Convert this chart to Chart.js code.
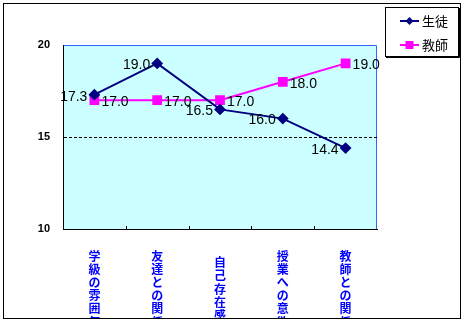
<!DOCTYPE html>
<html>
<head>
    <title>生徒と教師</title>
    <script src="https://cdn.jsdelivr.net/npm/chart.js"></script>
    <style>
        body { margin: 0; background: #fff; }
        .chart-container { width: 462px; height: 322px; position: relative; }
    </style>
</head>
<body>
    <div class="chart-container">
        <canvas id="lineChart"></canvas>
    </div>
    <script>
        // data
        const categories = ['学級の雰囲気', '友達との関係', '自己存在感', '授業への意欲', '教師との関係'];
        const studentValues = [17.3, 19.0, 16.5, 16.0, 14.4];
        const teacherValues = [17.0, 17.0, 17.0, 18.0, 19.0];
        const seriesNames = ['生徒', '教師'];
        const yTicks = [10, 15, 20];

        // plot area background + blue top/right border, small inside ticks on x axis
        const plotArea = {
            id: 'plotArea',
            beforeDraw(chart) {
                const { ctx, chartArea: a } = chart;
                ctx.save();
                ctx.fillStyle = '#ccffff';
                ctx.fillRect(a.left, a.top, a.right - a.left, a.bottom - a.top);
                ctx.strokeStyle = '#3366ff';
                ctx.lineWidth = 1;
                ctx.beginPath();
                ctx.moveTo(a.left, a.top + 0.5);
                ctx.lineTo(a.right - 0.5, a.top + 0.5);
                ctx.lineTo(a.right - 0.5, a.bottom);
                ctx.stroke();
                ctx.restore();
            },
            afterDraw(chart) {
                const { ctx, chartArea: a } = chart;
                const x = chart.scales.x;
                const step = (a.right - a.left) / categories.length;
                ctx.save();
                ctx.strokeStyle = '#000';
                ctx.lineWidth = 1;
                for (let i = 1; i < categories.length; i++) {
                    const px = Math.round(x.getPixelForValue(i) - step / 2) + 0.5;
                    ctx.beginPath();
                    ctx.moveTo(px, a.bottom);
                    ctx.lineTo(px, a.bottom - 3);
                    ctx.stroke();
                }
                // outer frame, labels cut off at it
                ctx.fillStyle = '#fff';
                ctx.fillRect(0, 319, chart.width, chart.height - 319);
                ctx.strokeStyle = '#000';
                ctx.strokeRect(3.5, 3.5, 457, 315);
                ctx.restore();
            }
        };

        // value labels next to each point
        const valueLabels = {
            id: 'valueLabels',
            afterDatasetsDraw(chart) {
                const ctx = chart.ctx;
                ctx.save();
                ctx.font = '14px "Liberation Sans"';
                ctx.fillStyle = '#000';
                ctx.textBaseline = 'middle';
                chart.data.datasets.forEach((ds, di) => {
                    const meta = chart.getDatasetMeta(di);
                    ctx.textAlign = ds.labelSide === 'left' ? 'right' : 'left';
                    meta.data.forEach((pt, i) => {
                        const dx = ds.labelSide === 'left' ? -7 : 7;
                        ctx.fillText(ds.data[i].toFixed(1), pt.x + dx, pt.y + 2);
                    });
                });
                ctx.restore();
            }
        };

        // boxed legend top right, line with marker
        const boxLegend = {
            id: 'boxLegend',
            afterDraw(chart) {
                const ctx = chart.ctx;
                ctx.save();
                ctx.strokeStyle = '#000';
                ctx.lineWidth = 1;
                ctx.strokeRect(385.5, 7.5, 73, 49);
                ctx.beginPath();
                ctx.moveTo(459.5, 8);
                ctx.lineTo(459.5, 57.5);
                ctx.lineTo(386, 57.5);
                ctx.stroke();
                ctx.font = '13px "Noto Sans CJK JP"';
                ctx.textBaseline = 'middle';
                ctx.textAlign = 'left';
                chart.data.datasets.forEach((ds, i) => {
                    const y = 21 + i * 24;
                    ctx.strokeStyle = ds.borderColor;
                    ctx.lineWidth = 2;
                    ctx.beginPath();
                    ctx.moveTo(400, y);
                    ctx.lineTo(419, y);
                    ctx.stroke();
                    ctx.fillStyle = ds.borderColor;
                    ctx.beginPath();
                    if (ds.pointStyle === 'rect') {
                        ctx.rect(405.5, y - 4, 8, 8);
                    } else {
                        ctx.moveTo(409.5, y - 4);
                        ctx.lineTo(413.5, y);
                        ctx.lineTo(409.5, y + 4);
                        ctx.lineTo(405.5, y);
                        ctx.closePath();
                    }
                    ctx.fill();
                    ctx.fillStyle = '#000';
                    ctx.fillText(ds.label, 422, y);
                });
                ctx.restore();
            }
        };

        function setupChart() {
            const ctx = document.getElementById('lineChart').getContext('2d');
            new Chart(ctx, {
                type: 'line',
                data: {
                    labels: categories.map(c => c.split('')),
                    datasets: [{
                        label: seriesNames[0],
                        data: studentValues,
                        borderColor: '#000080',
                        backgroundColor: '#000080',
                        borderWidth: 2,
                        pointStyle: 'rectRot',
                        pointRadius: 4.5,
                        pointHoverRadius: 4.5,
                        tension: 0,
                        labelSide: 'left'
                    }, {
                        label: seriesNames[1],
                        data: teacherValues,
                        borderColor: '#ff00ff',
                        backgroundColor: '#ff00ff',
                        borderWidth: 2,
                        pointStyle: 'rect',
                        pointRadius: 5.5,
                        pointHoverRadius: 5.5,
                        tension: 0,
                        labelSide: 'right'
                    }]
                },
                options: {
                    responsive: true,
                    maintainAspectRatio: false,
                    animation: false,
                    layout: { padding: { top: 45, right: 85, left: 0, bottom: 0 } },
                    plugins: {
                        legend: { display: false },
                        tooltip: { enabled: false }
                    },
                    scales: {
                        x: {
                            offset: true,
                            grid: { display: false },
                            border: { color: '#000', width: 1 },
                            ticks: {
                                color: '#0000ff',
                                padding: 19,
                                crossAlign: 'center',
                                maxRotation: 0,
                                autoSkip: false,
                                font: { family: '"Noto Sans CJK JP"', size: 12, weight: 'bold', lineHeight: 1.1 }
                            },
                            afterFit(scale) { scale.height = 93; }
                        },
                        y: {
                            min: yTicks[0],
                            max: yTicks[yTicks.length - 1],
                            afterBuildTicks(scale) { scale.ticks = yTicks.map(v => ({ value: v })); },
                            grid: {
                                drawTicks: false,
                                color: c => (c.tick && c.tick.value === 15 ? '#000' : 'rgba(0,0,0,0)'),
                                lineWidth: 1
                            },
                            border: { color: '#000', width: 1, dash: [3, 2] },
                            ticks: {
                                color: '#000',
                                padding: 13,
                                font: { family: '"Liberation Sans"', size: 11, weight: 'bold' }
                            },
                            afterFit(scale) { scale.width = 63; }
                        }
                    }
                },
                plugins: [plotArea, valueLabels, boxLegend]
            });
        }

        window.onload = setupChart;
    </script>
</body>
</html>
